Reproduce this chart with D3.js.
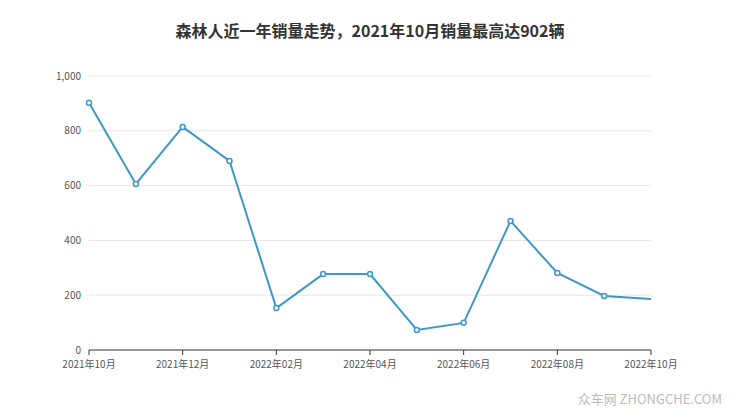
<!DOCTYPE html>
<html><head><meta charset="utf-8">
<script src="https://cdn.jsdelivr.net/npm/d3@7"></script>
<style>body{margin:0;background:#fff;font-family:"Noto Sans CJK SC","Noto Sans",sans-serif}</style>
</head><body><div id="chart"></div>
<script>
const months = ["2021年10月","2021-11","2021年12月","2022-01","2022年02月","2022-03","2022年04月","2022-05","2022年06月","2022-07","2022年08月","2022-09","2022年10月"];
const sales = [902, 606, 814, 690, 153, 277, 277, 73, 99, 471, 281, 197, 186];
const yTicks = [0, 200, 400, 600, 800, 1000];

const margin = {top: 76, right: 89, bottom: 67, left: 89},
  width = 740 - margin.left - margin.right,
  height = 417 - margin.top - margin.bottom;

const svg = d3.select("#chart").append("svg").attr("width", 740).attr("height", 417);
const g = svg.append("g").attr("transform", "translate(" + margin.left + "," + margin.top + ")");

svg.append("text").attr("x", 370).attr("y", 37).attr("text-anchor", "middle")
  .style("font-size", "16px").style("font-weight", "bold").attr("fill", "#333")
  .text("森林人近一年销量走势，2021年10月销量最高达902辆");

const x = d3.scaleLinear().domain([0, months.length - 1]).range([0, width]);
const y = d3.scaleLinear().domain([0, 1000]).range([height, 0]);

// grid
g.selectAll(".grid").data(yTicks.slice(1)).join("line")
  .attr("x1", 0).attr("x2", width).attr("y1", d => y(d)).attr("y2", d => y(d))
  .attr("stroke", "#e6e6e6");

g.selectAll(".ylab").data(yTicks).join("text")
  .attr("x", -8).attr("y", d => y(d)).attr("dy", "0.35em").attr("text-anchor", "end")
  .style("font-size", "10px").attr("fill", "#555").text(d => d3.format(",")(d));

// x axis
g.append("line").attr("x1", 0).attr("x2", width).attr("y1", height).attr("y2", height).attr("stroke", "#333");
const xt = d3.range(0, months.length, 2);
g.selectAll(".xt").data(xt).join("line")
  .attr("x1", d => x(d)).attr("x2", d => x(d)).attr("y1", height).attr("y2", height + 5).attr("stroke", "#333");
g.selectAll(".xl").data(xt).join("text")
  .attr("x", d => x(d)).attr("y", height + 18).attr("text-anchor", "middle")
  .style("font-size", "10px").attr("fill", "#555").text(d => months[d]);

g.append("path").datum(sales).attr("fill", "none").attr("stroke", "#3d98c8").attr("stroke-width", 2)
  .attr("d", d3.line().x((d, i) => x(i)).y(d => y(d)));

g.selectAll(".pt").data(sales.slice(0, -1)).join("circle")
  .attr("cx", (d, i) => x(i)).attr("cy", d => y(d)).attr("r", 2.5)
  .attr("fill", "#fff").attr("stroke", "#3d98c8").attr("stroke-width", 1.5);

svg.append("text").attr("x", 722).attr("y", 404).attr("text-anchor", "end")
  .style("font-size", "13px").attr("fill", "#bbb").text("众车网 ZHONGCHE.COM");
</script></body></html>
